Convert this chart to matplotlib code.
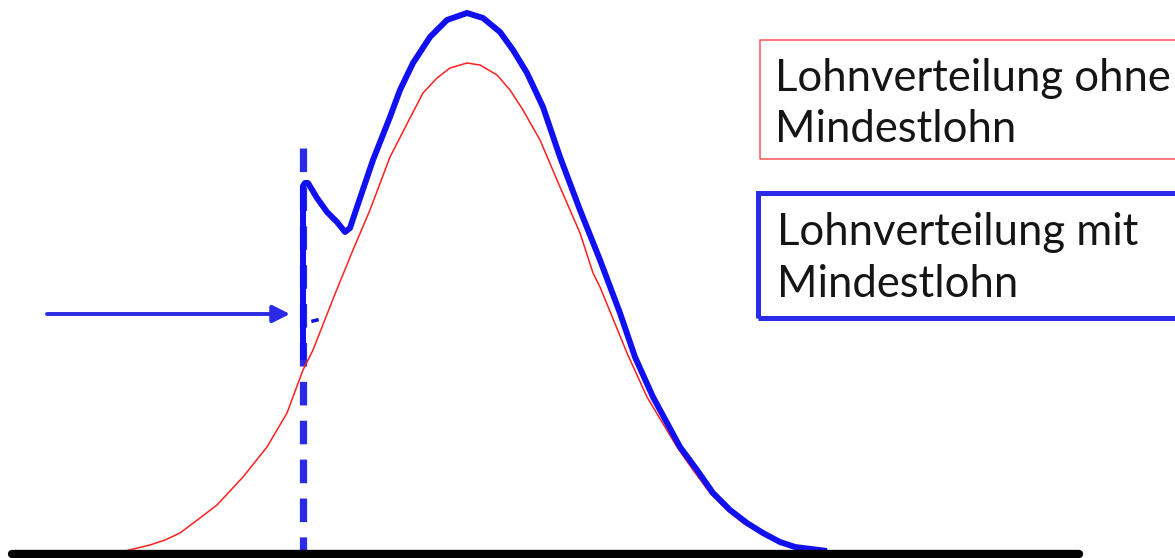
import matplotlib.pyplot as plt
from matplotlib.patches import Rectangle

# Lohnverteilung ohne Mindestlohn (red, thin)
wage_red = [122, 125, 150, 165, 180, 200, 217, 243, 267, 287, 303, 313, 335, 353,
            370, 390, 410, 423, 437, 450, 467, 480, 497, 510, 523, 540, 560, 580,
            593, 600, 627, 647, 677, 693, 710, 727, 743, 760, 777, 793, 813, 825]
dens_red = [0, 1, 7, 12, 19, 34, 47, 75, 105, 139, 182, 202, 258, 302,
            342, 395, 434, 459, 474, 484, 489, 487, 477, 462, 442, 412, 365, 319,
            279, 265, 199, 155, 105, 82, 59, 42, 29, 19, 10, 5, 2, 0]

# Lohnverteilung mit Mindestlohn (blue, thick) - spike at the minimum wage
wage_blue = [303, 303, 305, 308, 317, 327, 337, 345, 350, 357, 373, 390, 400, 413,
             430, 447, 467, 483, 500, 513, 527, 543, 560, 580, 600, 620, 635, 653,
             680, 697, 713, 730, 747, 763, 780, 795, 827]
dens_blue = [192, 366, 369, 369, 354, 340, 330, 320, 324, 345, 392, 435, 462, 489,
             515, 532, 539, 534, 520, 502, 479, 445, 395, 342, 292, 239, 195, 155,
             105, 82, 59, 42, 29, 19, 10, 5, 1]

min_wage = 303
min_wage_top = 404
arrow_start = 47
arrow_height = 238

label_red = ["Lohnverteilung ohne", "Mindestlohn"]
label_blue = ["Lohnverteilung mit", "Mindestlohn"]

plt.rcParams['lines.scale_dashes'] = False

fig = plt.figure(figsize=(11.75, 5.58), dpi=100)
ax = fig.add_axes([0, 0, 1, 1])
ax.set_xlim(0, 1175)
ax.set_ylim(-6, 552)
ax.axis('off')

# axis line
ax.plot([12, 1079], [-2, -2], color='black', lw=6, solid_capstyle='round', zorder=5)

# minimum wage (dashed)
ax.plot([min_wage, min_wage], [min_wage_top, 0], color='#2b2be6', lw=5.2,
        dashes=(17, 11), zorder=2)

ax.plot(wage_red, dens_red, color='#ff2020', lw=1.1, zorder=3)
ax.plot(wage_blue, dens_blue, color='#1010f0', lw=4.3, solid_joinstyle='round',
        solid_capstyle='butt', zorder=4)
# small stray stroke next to the spike
ax.plot([313, 317], [231, 232], color='#1010f0', lw=2.5, zorder=4)

ax.annotate('', xy=(min_wage - 13, arrow_height), xytext=(arrow_start, arrow_height),
            arrowprops=dict(arrowstyle='-|>', color='#2b2be6', lw=2.8,
                            mutation_scale=26, shrinkA=0, shrinkB=0))

# text boxes
ax.add_patch(Rectangle((760, 393), 500, 119, fill=False, edgecolor='#ff5555',
                       lw=1.1, clip_on=False, zorder=6))
ax.add_patch(Rectangle((758, 234), 500, 125, fill=False, edgecolor='#2a2ae8',
                       lw=3.6, clip_on=False, zorder=6))

for i, line in enumerate(label_red):
    ax.text(775, 461 - 51 * i, line, fontsize=31.4, family='Lato', color='#151515',
            va='baseline', ha='left', zorder=7)
for i, line in enumerate(label_blue):
    ax.text(777, 307 - 52 * i, line, fontsize=31.4, family='Lato', color='#151515',
            va='baseline', ha='left', zorder=7)

fig.savefig('out.png', dpi=100)
